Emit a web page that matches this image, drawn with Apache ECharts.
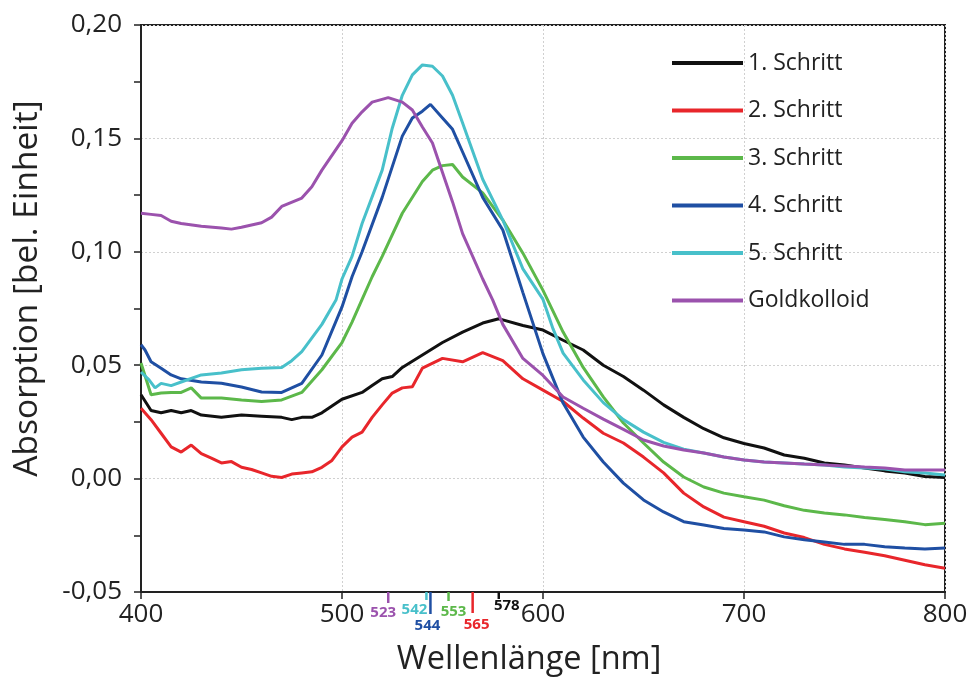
<!DOCTYPE html>
<html>
<head>
<meta charset="utf-8">
<script src="https://cdn.jsdelivr.net/npm/echarts@6/dist/echarts.min.js"></script>
<style>
  html, body { margin: 0; padding: 0; background: #fff; }
  #chart { width: 970px; height: 677px; }
</style>
</head>
<body>
<div id="chart"></div>
<script>
// UV-Vis absorption spectra, wavelength in nm vs. absorption
const seriesNames = ['1. Schritt', '2. Schritt', '3. Schritt', '4. Schritt', '5. Schritt', 'Goldkolloid'];

const schritt1 = [
  [400,0.037],[405,0.030],[410,0.029],[415,0.030],[420,0.029],[425,0.030],[430,0.028],[440,0.027],
  [450,0.028],[460,0.0275],[470,0.027],[475,0.026],[480,0.027],[485,0.027],[490,0.029],[495,0.032],
  [500,0.035],[510,0.038],[515,0.041],[520,0.044],[525,0.045],[530,0.049],[540,0.0545],[550,0.060],
  [560,0.0646],[570,0.0686],[578,0.0705],[580,0.070],[590,0.0675],[600,0.0655],[610,0.061],[620,0.0567],
  [630,0.050],[640,0.045],[650,0.039],[660,0.0325],[670,0.027],[680,0.022],[690,0.018],[700,0.0155],
  [710,0.0135],[720,0.0104],[730,0.009],[740,0.0069],[750,0.006],[760,0.0047],[770,0.0034],[780,0.0025],
  [790,0.0009],[800,0.0005]
];
const schritt2 = [
  [400,0.031],[405,0.026],[410,0.020],[415,0.014],[420,0.0117],[425,0.0148],[430,0.011],[435,0.009],
  [440,0.0069],[445,0.0075],[450,0.005],[455,0.004],[460,0.0025],[465,0.001],[470,0.0005],[475,0.002],
  [480,0.0025],[485,0.003],[490,0.005],[495,0.008],[500,0.014],[505,0.0183],[510,0.0205],[515,0.027],
  [520,0.0325],[525,0.0377],[530,0.040],[535,0.0405],[540,0.0487],[550,0.053],[560,0.0515],[570,0.0555],
  [580,0.052],[590,0.044],[600,0.039],[610,0.034],[620,0.0267],[630,0.020],[640,0.0157],[650,0.0095],
  [660,0.0025],[670,-0.0064],[680,-0.0125],[690,-0.017],[700,-0.019],[710,-0.021],[720,-0.024],
  [730,-0.026],[740,-0.029],[750,-0.031],[760,-0.0325],[770,-0.034],[780,-0.036],[790,-0.038],[800,-0.0395]
];
const schritt3 = [
  [400,0.051],[405,0.037],[410,0.0377],[415,0.038],[420,0.038],[425,0.040],[430,0.0355],[440,0.0355],
  [450,0.0347],[460,0.034],[470,0.0347],[480,0.038],[490,0.048],[500,0.060],[505,0.069],[510,0.079],
  [515,0.089],[520,0.098],[530,0.117],[540,0.131],[545,0.136],[550,0.138],[555,0.1385],[560,0.133],
  [570,0.126],[580,0.114],[590,0.0994],[600,0.083],[610,0.0646],[620,0.049],[630,0.036],[640,0.0245],
  [650,0.0157],[660,0.0073],[670,0.0007],[680,-0.0037],[690,-0.0064],[700,-0.008],[710,-0.0095],
  [720,-0.012],[730,-0.014],[740,-0.0152],[750,-0.016],[760,-0.0172],[770,-0.018],[780,-0.019],
  [790,-0.0203],[800,-0.0197]
];
const schritt4 = [
  [400,0.059],[402,0.0567],[405,0.0515],[410,0.0487],[415,0.0457],[420,0.044],[430,0.0426],[440,0.042],
  [450,0.0404],[460,0.0382],[470,0.038],[480,0.042],[490,0.0545],[500,0.0757],[505,0.089],[510,0.100],
  [520,0.124],[530,0.151],[535,0.159],[540,0.162],[544,0.165],[550,0.159],[555,0.154],[560,0.144],
  [570,0.124],[580,0.1096],[590,0.082],[600,0.055],[610,0.0333],[620,0.0183],[630,0.0073],[640,-0.002],
  [650,-0.0094],[660,-0.0147],[670,-0.019],[680,-0.0205],[690,-0.022],[700,-0.0227],[710,-0.0235],
  [720,-0.0257],[730,-0.027],[740,-0.028],[750,-0.029],[760,-0.029],[770,-0.030],[780,-0.0306],
  [790,-0.031],[800,-0.0306]
];
const schritt5 = [
  [400,0.047],[404,0.0435],[407,0.040],[410,0.042],[415,0.041],[420,0.0426],[430,0.0457],[440,0.0466],
  [450,0.048],[460,0.0487],[470,0.049],[475,0.052],[480,0.056],[490,0.068],[497,0.0787],[500,0.088],
  [505,0.098],[510,0.1125],[520,0.136],[525,0.1545],[530,0.169],[535,0.178],[540,0.1824],[545,0.1818],
  [550,0.1775],[555,0.169],[560,0.1568],[570,0.132],[580,0.114],[590,0.0925],[600,0.079],[605,0.066],
  [610,0.0553],[620,0.0435],[630,0.0335],[640,0.026],[650,0.0205],[660,0.016],[670,0.013],[680,0.0113],
  [690,0.0095],[700,0.0082],[710,0.0073],[720,0.0069],[730,0.0064],[740,0.006],[750,0.0051],[760,0.0047],
  [770,0.0042],[780,0.003],[790,0.0025],[800,0.0016]
];
const goldkolloid = [
  [400,0.117],[405,0.1165],[410,0.116],[415,0.1135],[420,0.1125],[430,0.1113],[440,0.1105],[445,0.110],
  [450,0.1108],[460,0.1128],[465,0.1153],[470,0.120],[480,0.1237],[485,0.1287],[490,0.136],[500,0.149],
  [505,0.1567],[510,0.1617],[515,0.166],[523,0.168],[530,0.166],[535,0.1625],[540,0.155],[545,0.148],
  [550,0.135],[555,0.122],[560,0.108],[570,0.088],[575,0.0787],[580,0.068],[590,0.053],[600,0.0455],
  [610,0.036],[620,0.031],[630,0.0262],[640,0.0217],[650,0.017],[660,0.0144],[670,0.0126],[680,0.0113],
  [690,0.0095],[700,0.0082],[710,0.0073],[720,0.0069],[730,0.0064],[740,0.006],[750,0.0056],[760,0.0051],
  [770,0.0047],[780,0.0038],[790,0.0038],[800,0.0038]
];

// absorption maxima marked under the wavelength axis
const peakWavelengths = [523, 542, 544, 553, 565, 578];

const seriesData = [schritt1, schritt2, schritt3, schritt4, schritt5, goldkolloid];
const seriesColors = ['#111111', '#e8262b', '#5cb84a', '#1f4fa3', '#48c0ca', '#9b52ad'];
const peakColors = ['#9b52ad', '#48c0ca', '#1f4fa3', '#5cb84a', '#e8262b', '#111111'];
// per-marker layout: tick length, label offset x, label centre below axis
const peakLayout = [
  { len: 11, dx: -5, dy: 21 },
  { len: 8,  dx: -12, dy: 18 },
  { len: 22, dx: -3, dy: 34 },
  { len: 9,  dx: 5, dy: 20 },
  { len: 21, dx: 4, dy: 33 },
  { len: 7,  dx: 8, dy: 14 }
];

const fmt = v => v.toFixed(2).replace('.', ',');
const FONT = 'Open Sans';

const chart = echarts.init(document.getElementById('chart'), null, { renderer: 'canvas' });

const lineSeries = seriesNames.map((name, i) => ({
  name,
  type: 'line',
  data: seriesData[i],
  showSymbol: false,
  smooth: false,
  lineStyle: { color: seriesColors[i], width: 3 },
  itemStyle: { color: seriesColors[i] },
  z: 3,
  animation: false
}));

const peakSeries = {
  type: 'custom',
  name: 'peaks',
  data: peakWavelengths.map((nm, i) => [nm, i]),
  clip: false,
  silent: true,
  animation: false,
  z: 5,
  renderItem: (params, api) => {
    const i = api.value(1);
    const p = api.coord([api.value(0), -0.05]);
    const L = peakLayout[i];
    return {
      type: 'group',
      children: [
        {
          type: 'line',
          shape: { x1: p[0], y1: p[1], x2: p[0], y2: p[1] + L.len },
          style: { stroke: peakColors[i], lineWidth: 2.5 }
        },
        {
          type: 'text',
          style: {
            x: p[0] + L.dx,
            y: p[1] + L.dy,
            text: String(api.value(0)),
            fill: peakColors[i],
            font: 'bold 15px "' + FONT + '"',
            align: 'center',
            verticalAlign: 'middle'
          }
        }
      ]
    };
  }
};

chart.setOption({
  backgroundColor: '#fff',
  animation: false,
  grid: {
    left: 141, right: 25, top: 25, bottom: 85,
    outerBoundsMode: 'none',
    containLabel: false,
    show: true, borderColor: '#222', borderWidth: 2, backgroundColor: 'transparent'
  },
  legend: {
    data: seriesNames,
    orient: 'vertical',
    left: 667,
    top: 43,
    icon: 'rect',
    itemWidth: 71,
    itemHeight: 4,
    itemGap: 17.5,
    textStyle: { fontFamily: FONT, fontSize: 23, color: '#222', lineHeight: 30, padding: [0, 0, 0, 0] }
  },
  xAxis: {
    type: 'value',
    min: 400, max: 800, interval: 100,
    name: 'Wellenlänge [nm]',
    nameLocation: 'middle',
    nameGap: 51,
    nameTextStyle: { fontFamily: FONT, fontSize: 32.5, color: '#222', padding: [0, 28, 0, 0] },
    axisLine: { show: true, onZero: false, lineStyle: { color: '#222', width: 2 } },
    axisTick: { show: true, length: 7, lineStyle: { color: '#222', width: 1.5 } },
    axisLabel: { fontFamily: FONT, fontSize: 26, color: '#222', margin: 10 },
    splitLine: { show: true, lineStyle: { color: '#d0d0d0', type: [2, 2], width: 1 } }
  },
  yAxis: {
    type: 'value',
    min: -0.05, max: 0.20, interval: 0.05,
    name: 'Absorption [bel. Einheit]',
    nameLocation: 'middle',
    nameGap: 97,
    nameRotate: 90,
    nameTextStyle: { fontFamily: FONT, fontSize: 33.5, color: '#222', padding: [0, 0, 0, 40] },
    axisLine: { show: true, onZero: false, lineStyle: { color: '#222', width: 2 } },
    axisTick: { show: true, length: 7, lineStyle: { color: '#222', width: 1.5 } },
    minorTick: { show: true, splitNumber: 2, length: 7, lineStyle: { color: '#222', width: 1.5 } },
    axisLabel: { fontFamily: FONT, fontSize: 26, color: '#222', margin: 19, formatter: fmt },
    splitLine: { show: true, lineStyle: { color: '#d0d0d0', type: [2, 2], width: 1 } }
  },
  series: [...lineSeries, peakSeries]
});
</script>
</body>
</html>
